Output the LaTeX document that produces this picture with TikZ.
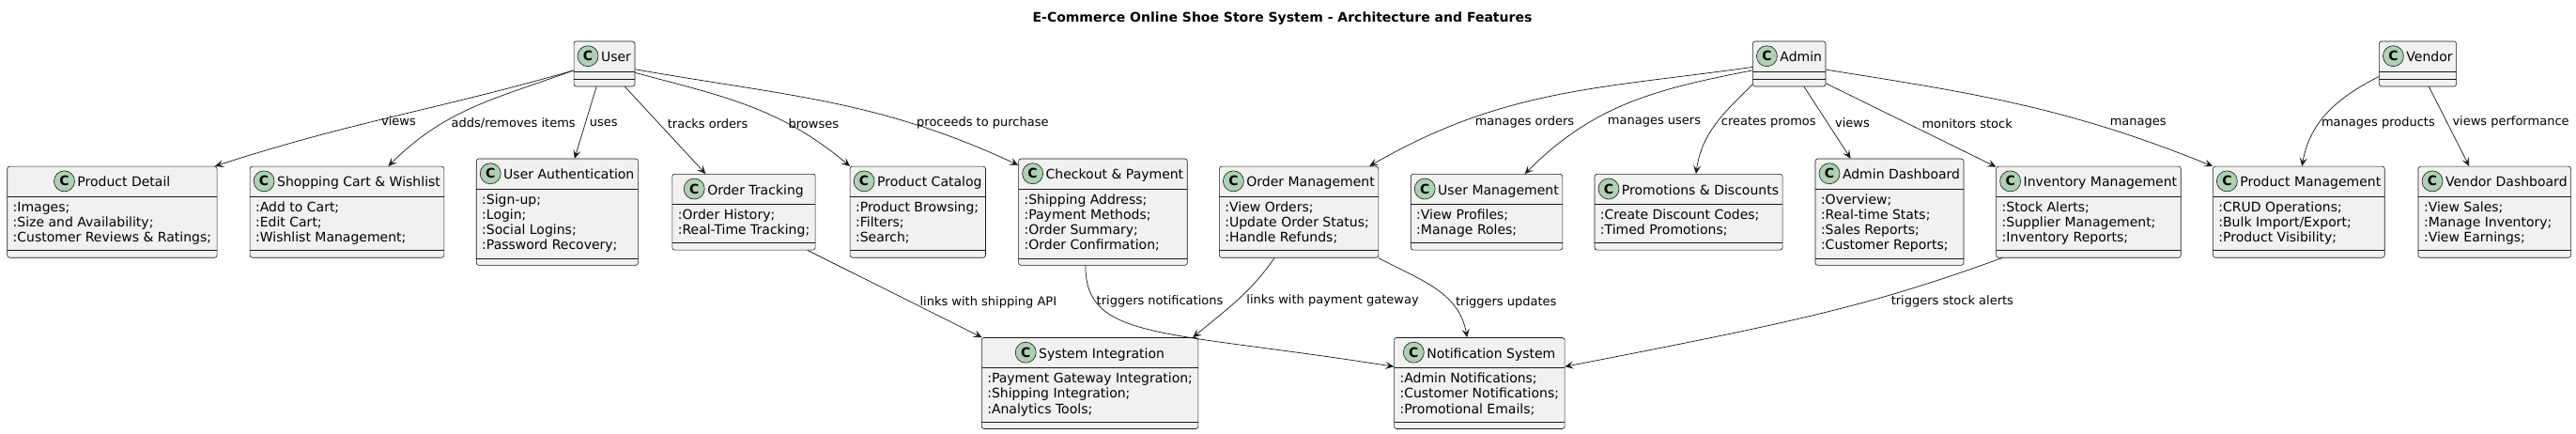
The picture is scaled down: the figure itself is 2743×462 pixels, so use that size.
\documentclass[tikz,border=0pt]{standalone}
\usepackage{fontspec}
\setmainfont{DejaVu Sans}
\usetikzlibrary{arrows.meta}

\definecolor{boxfill}{HTML}{F1F1F1}
\definecolor{linecol}{HTML}{181818}
\definecolor{badgefill}{HTML}{ADD1B2}

\newcommand\classfont{\fontsize{14}{16.3}\selectfont}
\newcommand\labelfont{\fontsize{13}{15}\selectfont}

% class box: badge + name, fields, empty methods part
% (name width is measured inside the node, where the font is set)
\newlength\cnamew
\newcommand\keepwidth[1]{\settowidth\cnamew{#1}\global\cnamew=\cnamew}
\newcommand\classnode[4]{%
  \node[classbox] (#1) at (#2) {\keepwidth{#3}\begin{tabular}{@{\hspace{2pt}}l@{\hspace{2pt}}}%
      \multicolumn{1}{@{}c@{}}{\rule[-14.9pt]{0pt}{36.6pt}\hspace*{25pt}#3}\\
      #4\rule[-16.4pt]{0pt}{16.4pt}\end{tabular}};
  \node[badge] (#1c) at ([xshift=-0.5\cnamew-1.5pt,yshift=-16pt]#1.north) {C};
}
% class box without fields
\newcommand\actornode[3]{%
  \node[classbox] (#1) at (#2) {\keepwidth{#3}\rule[-26.3pt]{0pt}{48pt}\hspace*{25pt}#3};
  \node[badge] (#1c) at ([xshift=-0.5\cnamew-1.5pt,yshift=-16pt]#1.north) {C};
}

\begin{document}
\begin{tikzpicture}[x=1pt,y=1pt,
    classbox/.style={draw=linecol, fill=boxfill, line width=0.6pt, rounded corners=2.5pt,
      inner xsep=4pt, inner ysep=0pt, font=\classfont,
      path picture={
        \draw[linecol, line width=0.6pt] ([yshift=-32pt]path picture bounding box.north west) -- ([yshift=-32pt]path picture bounding box.north east);
        \draw[linecol, line width=0.6pt] ([yshift=7.5pt]path picture bounding box.south west) -- ([yshift=7.5pt]path picture bounding box.south east);}},
    badge/.style={circle, draw=linecol, fill=badgefill, line width=0.6pt, minimum size=22pt,
      inner sep=0pt, font=\classfont\bfseries},
    lbl/.style={font=\labelfont, anchor=west, inner sep=4pt},
    arr/.style={draw=linecol, line width=0.7pt, -{Stealth[length=9pt,width=8pt,inset=4pt]}}]

  \path[use as bounding box, fill=white] (0,0) rectangle (2743,-462);

  \node[font=\bfseries\fontsize{14}{16}\selectfont, anchor=base] (title) at (1365.5,-23.3)
    {E-Commerce Online Shoe Store System - Architecture and Features};

  % actors
  \actornode{user}{643.5,-68}{User}
  \actornode{admin}{1905.2,-68}{Admin}
  \actornode{vendor}{2574.5,-68}{Vendor}

  % features
  \classnode{pd}{119.4,-225.7}{Product Detail}{:Images;\\:Size and Availability;\\:Customer Reviews \& Ratings;}
  \classnode{cart}{369.5,-225.7}{Shopping Cart \& Wishlist}{:Add to Cart;\\:Edit Cart;\\:Wishlist Management;}
  \classnode{auth}{593.3,-225.7}{User Authentication}{:Sign-up;\\:Login;\\:Social Logins;\\:Password Recovery;}
  \classnode{track}{792,-225.7}{Order Tracking}{:Order History;\\:Real-Time Tracking;}
  \classnode{catalog}{977.3,-225.7}{Product Catalog}{:Product Browsing;\\:Filters;\\:Search;}
  \classnode{checkout}{1174.4,-225.7}{Checkout \& Payment}{:Shipping Address;\\:Payment Methods;\\:Order Summary;\\:Order Confirmation;}
  \classnode{ordmgmt}{1383.1,-225.7}{Order Management}{:View Orders;\\:Update Order Status;\\:Handle Refunds;}
  \classnode{usrmgmt}{1583,-225.7}{User Management}{:View Profiles;\\:Manage Roles;}
  \classnode{promo}{1798,-225.7}{Promotions \& Discounts}{:Create Discount Codes;\\:Timed Promotions;}
  \classnode{adash}{2012,-225.7}{Admin Dashboard}{:Overview;\\:Real-time Stats;\\:Sales Reports;\\:Customer Reports;}
  \classnode{inv}{2223.9,-225.7}{Inventory Management}{:Stock Alerts;\\:Supplier Management;\\:Inventory Reports;}
  \classnode{prodmgmt}{2447.8,-225.7}{Product Management}{:CRUD Operations;\\:Bulk Import/Export;\\:Product Visibility;}
  \classnode{vdash}{2656.3,-225.7}{Vendor Dashboard}{:View Sales;\\:Manage Inventory;\\:View Earnings;}

  % services
  \classnode{sysint}{1160.6,-408}{System Integration}{:Payment Gateway Integration;\\:Shipping Integration;\\:Analytics Tools;}
  \classnode{notif}{1575.3,-408}{Notification System}{:Admin Notifications;\\:Customer Notifications;\\:Promotional Emails;}

  \begin{scope}[every edge/.style={arr}]
    \path (user.192)  edge[out=196,in=18] node[lbl,pos=.55] {views} (pd.24);
    \path (user.192)  edge[out=200,in=45] node[lbl,pos=.68,xshift=5pt] {adds/removes items} (cart.48);
    \path (user.251)  edge node[lbl,pos=.5] {uses} (auth.72);
    \path (user.312)  edge node[lbl,pos=.42,xshift=5pt] {tracks orders} (track.135);
    \path (user.344)  edge[out=-15,in=140] node[lbl,pos=.69,xshift=-3pt] {browses} (catalog.146);
    \path (user.350)  edge[out=-10,in=155] node[lbl,pos=.72,xshift=3pt] {proceeds to purchase} (checkout.151);

    \path (admin.185) edge[out=188,in=30] node[lbl,pos=.76,xshift=11pt] {manages orders} (ordmgmt.33);
    \path (admin.190) edge[out=191,in=45] node[lbl,pos=.68,xshift=14pt] {manages users} (usrmgmt.45);
    \path (admin.209) edge[out=225,in=82] node[lbl,pos=.47] {creates promos} (promo.79);
    \path (admin.303) edge node[lbl,pos=.5,xshift=4pt] {views} (adash.126);
    \path (admin.332) edge node[lbl,pos=.48,xshift=11pt] {monitors stock} (inv.154);
    \path (admin.351) edge[out=-9,in=158] node[lbl,pos=.69,xshift=16pt] {manages} (prodmgmt.152);

    \path (vendor.198) edge[out=207,in=80] node[lbl,pos=.62,xshift=-2pt] {manages products} (prodmgmt.86);
    \path (vendor.296) edge node[lbl,pos=.45,xshift=1.5pt] {views performance} (vdash.119);

    \path (track.329)    edge node[lbl,pos=.6,xshift=4pt] {links with shipping API} (sysint.157);
    \path (checkout.252) edge[out=270,in=171,out distance=80pt,in distance=250pt] node[lbl,pos=.2,xshift=-3pt] {triggers notifications} (notif.169);
    \path (ordmgmt.242)  edge[out=235,in=40] node[lbl,pos=.5,xshift=6pt] {links with payment gateway} (sysint.24);
    \path (ordmgmt.330)  edge[out=-28,in=100] node[lbl,pos=.68,xshift=1pt] {triggers updates} (notif.105);
    \path (inv.208)      edge[out=200,in=11,out distance=150pt,in distance=250pt] node[lbl,pos=.37,xshift=20pt] {triggers stock alerts} (notif.11);
  \end{scope}

\end{tikzpicture}
\end{document}
